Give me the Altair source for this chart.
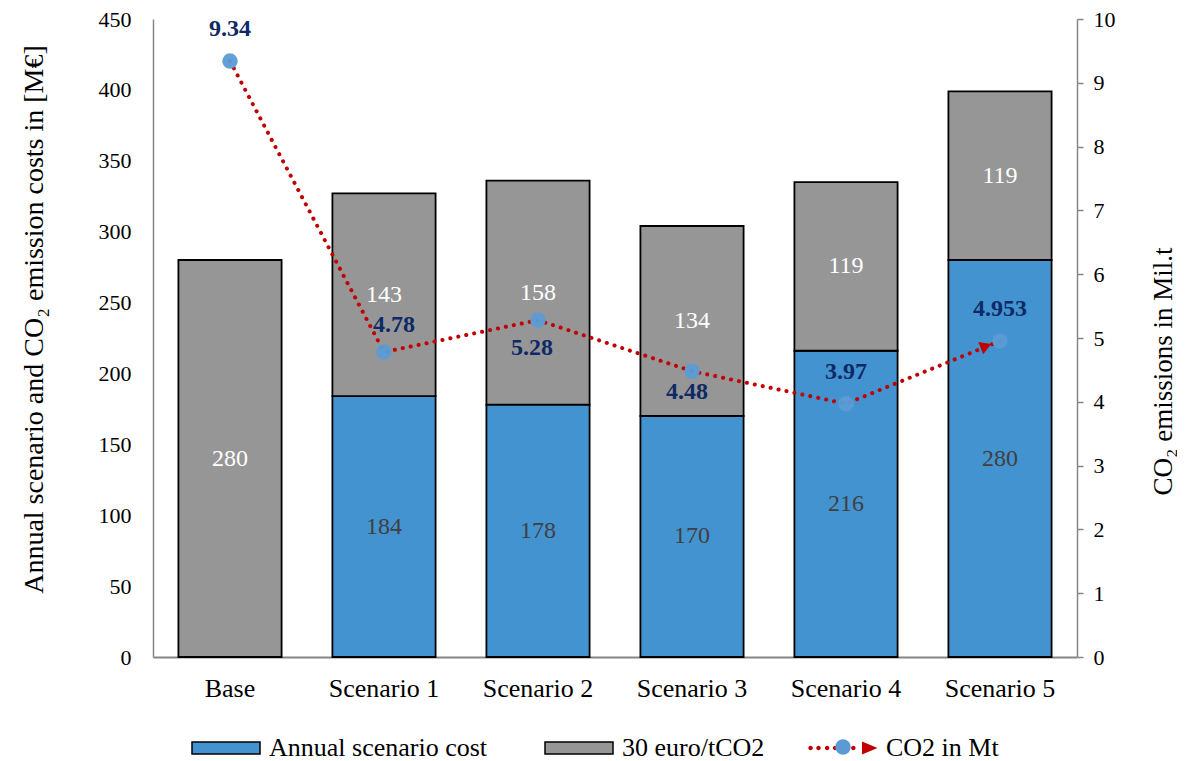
import altair as alt
import pandas as pd

# ---------------- data ----------------
categories = ["Base", "Scenario 1", "Scenario 2", "Scenario 3", "Scenario 4", "Scenario 5"]
annual_cost = [0, 184, 178, 170, 216, 280]
co2_cost = [280, 143, 158, 134, 119, 119]
co2_mt = [9.34, 4.78, 5.28, 4.48, 3.97, 4.953]
co2_text = ["9.34", "4.78", "5.28", "4.48", "3.97", "4.953"]
series_names = ["Annual scenario cost", "30 euro/tCO2"]
line_name = "CO2 in Mt"
left_ticks = [0, 50, 100, 150, 200, 250, 300, 350, 400, 450]
right_ticks = [0, 1, 2, 3, 4, 5, 6, 7, 8, 9, 10]

# ---------------- style ----------------
BLUE = "#4393D0"
GRAY = "#969696"
RED = "#C00000"
PT = "#5B9BD5"
NAVY = "#0E2A66"
AX = "#868686"
FONT = "Liberation Serif"

rows = []
for c, a, g in zip(categories, annual_cost, co2_cost):
    rows.append({"category": c, "series": series_names[0], "value": a, "order": 0})
    rows.append({"category": c, "series": series_names[1], "value": g, "order": 1})
bars_df = pd.DataFrame(rows)
line_df = pd.DataFrame({"category": categories, "co2": co2_mt, "label": co2_text,
                        "line": [line_name] * len(categories), "pt": ["pt"] * len(categories)})

x = alt.X("category:N", sort=categories,
          scale=alt.Scale(paddingInner=0.33, paddingOuter=0.165),
          axis=alt.Axis(title=None, labelAngle=0, labelFont=FONT, labelFontSize=26,
                        labelColor="black", labelPadding=18, ticks=False,
                        domainColor=AX, domainWidth=2))

left_scale = alt.Scale(domain=[0, 450], nice=False)
right_scale = alt.Scale(domain=[0, 10], nice=False)

left_axis = alt.Axis(title="Annual scenario and CO₂ emission costs in [M€]", values=left_ticks,
                     grid=False, ticks=False, domainColor=AX, domainWidth=1.5,
                     labelFont=FONT, labelFontSize=22, labelColor="black", labelPadding=22,
                     titleFont=FONT, titleFontSize=28, titleFontWeight="normal",
                     titleColor="black", titlePadding=50, titleY=300)
right_axis = alt.Axis(orient="right", title="CO₂ emissions in Mil.t", values=right_ticks,
                      grid=False, ticks=True, tickSize=6, tickColor=AX, tickWidth=1.5,
                      domainColor=AX, domainWidth=1.5,
                      labelFont=FONT, labelFontSize=22, labelColor="black", labelPadding=10,
                      titleFont=FONT, titleFontSize=27, titleFontWeight="normal",
                      titleColor="black", titleAngle=270, titlePadding=62, titleY=352)

# legend symbol paths
rect_path = "M-1,-0.18H1V0.18H-1Z"
dot_xs = [-0.94, -0.71, -0.46, -0.23, 0.30]
r = 0.065
dots = "".join(f"M{dx - r:.3f},0A{r},{r} 0 1,0 {dx + r:.3f},0A{r},{r} 0 1,0 {dx - r:.3f},0Z" for dx in dot_xs)
arrow_path = dots + "M0.55,-0.19L1,0L0.55,0.19Z"

legendA = alt.Legend(title=None, orient="none", legendX=38, legendY=694, direction="horizontal",
                     columns=2, columnPadding=54, symbolType=rect_path, symbolSize=4624,
                     symbolStrokeColor="black", symbolStrokeWidth=1.5, symbolOpacity=1,
                     labelFont=FONT, labelFontSize=26, labelColor="black", labelOffset=8,
                     labelLimit=400)
legendB = alt.Legend(title=None, orient="none", legendX=655, legendY=694, direction="horizontal",
                     symbolType=arrow_path, symbolSize=4761, symbolFillColor=RED,
                     symbolStrokeColor=RED, symbolStrokeWidth=0.01, symbolOpacity=1,
                     labelFont=FONT, labelFontSize=26, labelColor="black",
                     labelOffset=8, labelLimit=400)
legendC = alt.Legend(title=None, orient="none", legendX=682, legendY=720, direction="horizontal",
                     symbolSize=240, symbolFillColor=PT, symbolStrokeColor=PT,
                     symbolStrokeWidth=0.01, symbolOpacity=1, labelExpr="''")

stacked = (alt.Chart(bars_df)
           .transform_stack(stack="value", groupby=["category"], as_=["y0", "y1"],
                            sort=[alt.SortField("order")])
           .transform_filter("datum.value > 0")
           .transform_calculate(mid="(datum.y0 + datum.y1) / 2"))

bars = stacked.mark_bar(stroke="black", strokeWidth=1.8).encode(
    x=x,
    y=alt.Y("y0:Q", scale=left_scale, axis=left_axis),
    y2="y1:Q",
    fill=alt.Fill("series:N", scale=alt.Scale(domain=series_names, range=[BLUE, GRAY]),
                  legend=legendA),
)
bar_text = stacked.mark_text(font=FONT, fontSize=24, baseline="middle").encode(
    x=x,
    y=alt.Y("mid:Q", scale=left_scale, axis=left_axis),
    text="value:Q",
    color=alt.condition(f"datum.series == '{series_names[0]}'", alt.value("#404040"), alt.value("white")),
)
left_layer = alt.layer(bars, bar_text)

y_right = alt.Y("co2:Q", scale=right_scale, axis=right_axis)
base_line = alt.Chart(line_df)

line = base_line.mark_line(strokeWidth=4, strokeDash=[0.1, 8], strokeCap="round").encode(
    x=x, y=y_right,
    stroke=alt.Stroke("line:N", scale=alt.Scale(domain=[line_name], range=[RED]), legend=legendB),
)
points = base_line.mark_point(filled=True, size=240, opacity=0.95, strokeWidth=0).encode(
    x=x, y=y_right,
    color=alt.value(PT),
    shape=alt.Shape("pt:N", scale=alt.Scale(domain=["pt"], range=["circle"]), legend=legendC),
)
arrow = (base_line.transform_filter(f"datum.category == '{categories[-1]}'")
         .mark_point(shape="triangle-right", filled=True, color=RED, size=170, angle=338,
                     xOffset=-14, yOffset=5, opacity=1)
         .encode(x=x, y=y_right))

label_offsets = {"Base": (0, -32), "Scenario 1": (10, -27), "Scenario 2": (-6, 28),
                 "Scenario 3": (-5, 21), "Scenario 4": (0, -32), "Scenario 5": (0, -32)}
label_layers = []
for cat in categories:
    dx, dy = label_offsets[cat]
    label_layers.append(
        base_line.transform_filter(f"datum.category == '{cat}'")
        .mark_text(font=FONT, fontSize=24, fontWeight="bold", color=NAVY, dx=dx, dy=dy,
                   baseline="middle")
        .encode(x=x, y=y_right, text="label:N"))

right_layer = alt.layer(line, arrow, points, *label_layers)

chart = (alt.layer(left_layer, right_layer)
         .resolve_scale(y="independent")
         .properties(width=924, height=638,
                     autosize=alt.AutoSizeParams(type="none"),
                     padding={"left": 145, "top": 11, "right": 100, "bottom": 104},
                     background="white")
         .configure_view(stroke=None))

chart.save("out.html", embed_options={"renderer": "svg", "actions": False})
